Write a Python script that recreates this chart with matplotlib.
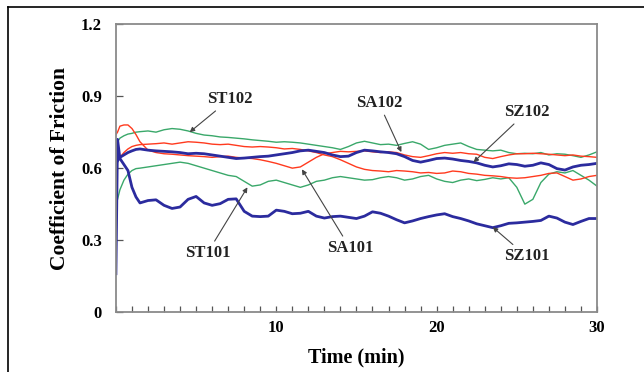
import matplotlib
matplotlib.use('Agg')
import matplotlib.pyplot as plt
from matplotlib.lines import Line2D
from matplotlib.ticker import MultipleLocator, FixedLocator

# time grid (min)
t = [0, 0.1, 0.25, 0.5, 0.75, 1.0, 1.25, 1.5,
     2.0, 2.5, 3.0, 3.5, 4.0, 4.5, 5.0, 5.5, 6.0, 6.5, 7.0, 7.5, 8.0, 8.5, 9.0, 9.5,
     10.0, 10.5, 11.0, 11.5, 12.0, 12.5, 13.0, 13.5, 14.0, 14.5, 15.0, 15.5, 16.0, 16.5,
     17.0, 17.5, 18.0, 18.5, 19.0, 19.5, 20.0, 20.5, 21.0, 21.5, 22.0, 22.5, 23.0, 23.5,
     24.0, 24.5, 25.0, 25.5, 26.0, 26.5, 27.0, 27.5, 28.0, 28.5, 29.0, 29.5, 30.0]

st102 = [0.68, 0.71, 0.725, 0.735, 0.742, 0.745, 0.75, 0.752,
         0.755, 0.75, 0.76, 0.765, 0.762, 0.755, 0.745, 0.738, 0.735, 0.73, 0.728, 0.725, 0.722, 0.718, 0.715, 0.712,
         0.708, 0.71, 0.708, 0.705, 0.70, 0.695, 0.69, 0.685, 0.678, 0.69, 0.705, 0.712, 0.705, 0.698,
         0.70, 0.695, 0.703, 0.71, 0.70, 0.678, 0.685, 0.695, 0.70, 0.705, 0.69, 0.678, 0.675, 0.672,
         0.675, 0.665, 0.66, 0.662, 0.66, 0.665, 0.655, 0.66, 0.658, 0.652, 0.645, 0.655, 0.668]

st101 = [0.45, 0.47, 0.51, 0.55, 0.575, 0.59, 0.598, 0.60,
         0.605, 0.61, 0.615, 0.62, 0.625, 0.62, 0.61, 0.60, 0.59, 0.58, 0.57, 0.565, 0.545, 0.525, 0.53, 0.545,
         0.55, 0.54, 0.53, 0.52, 0.53, 0.545, 0.55, 0.56, 0.565, 0.56, 0.555, 0.55, 0.552, 0.56,
         0.565, 0.56, 0.55, 0.555, 0.565, 0.57, 0.555, 0.545, 0.54, 0.55, 0.555, 0.548, 0.553, 0.56,
         0.555, 0.56, 0.52, 0.45, 0.47, 0.54, 0.575, 0.585, 0.58, 0.59, 0.57, 0.55, 0.525]

sa101 = [0.74, 0.75, 0.775, 0.78, 0.78, 0.765, 0.74, 0.71,
         0.675, 0.665, 0.66, 0.658, 0.655, 0.652, 0.65, 0.648, 0.645, 0.648, 0.65, 0.645, 0.642, 0.64, 0.635, 0.628,
         0.62, 0.61, 0.60, 0.605, 0.625, 0.645, 0.66, 0.665, 0.67, 0.668, 0.67, 0.672, 0.668, 0.665,
         0.668, 0.665, 0.655, 0.648, 0.645, 0.652, 0.66, 0.665, 0.662, 0.665, 0.66, 0.658, 0.645, 0.64,
         0.648, 0.655, 0.66, 0.66, 0.662, 0.66, 0.658, 0.655, 0.652, 0.655, 0.65, 0.648, 0.645]

sa102 = [0.62, 0.63, 0.645, 0.665, 0.68, 0.69, 0.695, 0.698,
         0.70, 0.702, 0.705, 0.70, 0.705, 0.71, 0.708, 0.705, 0.70, 0.698, 0.70, 0.695, 0.69, 0.688, 0.69, 0.688,
         0.685, 0.68, 0.682, 0.678, 0.672, 0.665, 0.655, 0.648, 0.635, 0.62, 0.605, 0.595, 0.59, 0.588,
         0.585, 0.59, 0.588, 0.585, 0.58, 0.582, 0.578, 0.58, 0.588, 0.585, 0.578, 0.575, 0.57, 0.568,
         0.565, 0.56, 0.558, 0.56, 0.565, 0.57, 0.578, 0.58, 0.565, 0.55, 0.555, 0.565, 0.57]

sz102 = [0.62, 0.63, 0.645, 0.655, 0.665, 0.672, 0.678, 0.68,
         0.675, 0.672, 0.67, 0.668, 0.665, 0.66, 0.662, 0.66, 0.655, 0.65, 0.645, 0.64, 0.642, 0.645, 0.648, 0.65,
         0.655, 0.66, 0.665, 0.672, 0.675, 0.67, 0.665, 0.655, 0.648, 0.65, 0.665, 0.675, 0.672, 0.668,
         0.665, 0.66, 0.648, 0.632, 0.625, 0.632, 0.64, 0.642, 0.638, 0.632, 0.628, 0.622, 0.612, 0.605,
         0.61, 0.618, 0.615, 0.608, 0.612, 0.622, 0.615, 0.598, 0.592, 0.605, 0.612, 0.615, 0.62]

sz101 = [0.16, 0.72, 0.64, 0.615, 0.59, 0.52, 0.48, 0.455,
         0.465, 0.468, 0.445, 0.432, 0.438, 0.47, 0.482, 0.455, 0.445, 0.452, 0.47, 0.472, 0.42, 0.40, 0.398, 0.40,
         0.425, 0.42, 0.41, 0.412, 0.42, 0.40, 0.392, 0.398, 0.40, 0.395, 0.39, 0.40, 0.418, 0.412,
         0.40, 0.385, 0.372, 0.38, 0.39, 0.398, 0.405, 0.41, 0.398, 0.39, 0.38, 0.368, 0.36, 0.352,
         0.36, 0.37, 0.372, 0.375, 0.378, 0.382, 0.40, 0.392, 0.375, 0.365, 0.378, 0.39, 0.39]

yticks = [0, 0.3, 0.6, 0.9, 1.2]
yticklabels = ['0', '0.3', '0.6', '0.9', '1.2']

# label, text position, arrow tip (data coords)
labels = [
    ('ST102', (7.1, 0.887), (4.6, 0.75)),
    ('ST101', (5.7, 0.246), (8.2, 0.52)),
    ('SA101', (14.6, 0.267), (11.6, 0.595)),
    ('SA102', (16.4, 0.871), (17.8, 0.667)),
    ('SZ102', (25.6, 0.833), (22.3, 0.625)),
    ('SZ101', (25.6, 0.233), (23.5, 0.354)),
]

green = '#3aa86a'
red = '#ff3a1e'
blue = '#2b2b9e'

plt.rcParams['font.family'] = ['Liberation Serif', 'DejaVu Serif']
plt.rcParams['font.weight'] = 'bold'

fig = plt.figure(figsize=(6.44, 3.72), dpi=100)
ax = fig.add_axes([0.180, 0.161, 0.747, 0.774])

ax.plot(t, st102, color=green, lw=1.0)
ax.plot(t, st101, color=green, lw=1.0)
ax.plot(t, sa102, color=red, lw=1.0)
ax.plot(t, sa101, color=red, lw=1.0)
ax.plot(t, sz102, color=blue, lw=2.0)
ax.plot(t, sz101, color=blue, lw=2.0)

ax.set_xlim(0, 30)
ax.set_ylim(0, 1.2)
ax.xaxis.set_major_locator(FixedLocator([10, 20, 30]))
ax.xaxis.set_minor_locator(MultipleLocator(1))
ax.set_yticks(yticks)
ax.set_yticklabels(yticklabels)
ax.tick_params(axis='x', which='both', direction='in', length=4, width=0.9,
               color='#555555', labelsize=12, pad=6)
ax.tick_params(axis='y', which='major', direction='in', length=5, width=0.9,
               color='#555555', labelsize=12, pad=10)
for s in ax.spines.values():
    s.set_color('#8a8a8a')
    s.set_linewidth(1.3)

ax.set_xlabel('Time (min)', fontsize=14.5, fontweight='bold', labelpad=8)
ax.set_ylabel('Coefficient of Friction', fontsize=15.5, fontweight='bold', labelpad=8)

for name, txt, tip in labels:
    ax.annotate(name, xy=tip, xytext=txt, ha='center', va='center',
                fontsize=12, fontweight='bold', color='#222222',
                arrowprops=dict(arrowstyle='-|>', color='#444444', lw=0.8,
                                mutation_scale=7, shrinkA=1, shrinkB=0))

# outer frame lines
fig.add_artist(Line2D([0.0124, 1.0], [0.981, 0.981], color='black', lw=1.2))
fig.add_artist(Line2D([0.0124, 0.0124], [0.0, 0.981], color='black', lw=1.2))

fig.savefig('out.png', dpi=100)
